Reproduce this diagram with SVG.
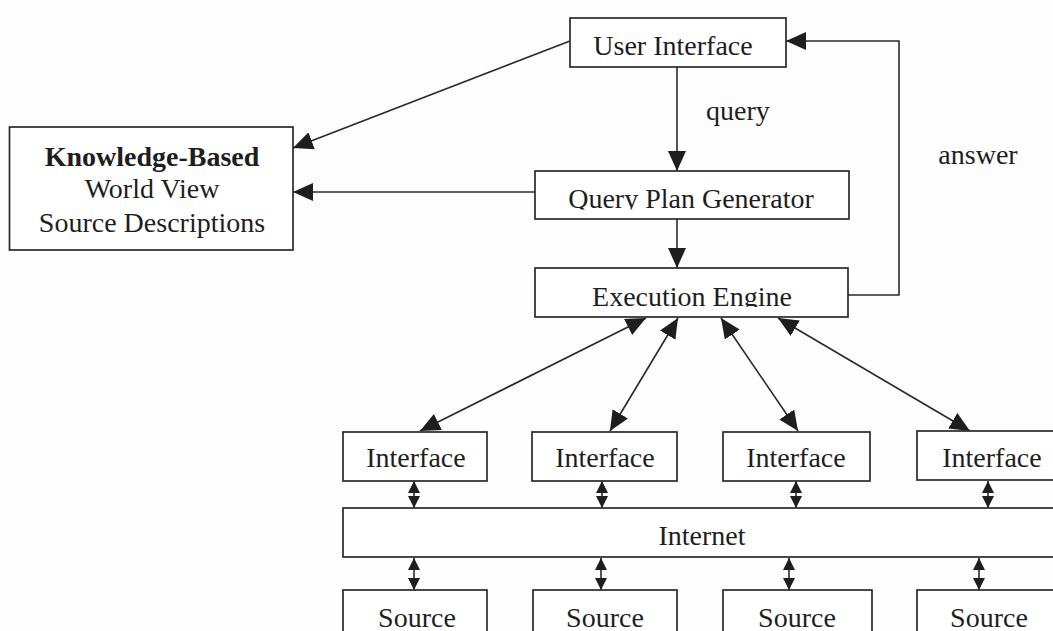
<svg xmlns="http://www.w3.org/2000/svg" width="1053" height="631" viewBox="0 0 1053 631">
  <style>
    .box { fill: #ffffff; stroke: #2a2a2a; stroke-width: 1.7; }
    .lbl { font-family: "Liberation Serif", "Times New Roman", serif; font-size: 28px; fill: #1e1e1e; text-anchor: middle; }
    .bold { font-weight: bold; }
    .wire { fill: none; stroke: #2a2a2a; stroke-width: 1.6; }
    .big { marker-end: url(#head); }
    .both { marker-start: url(#head); marker-end: url(#head); }
    .tiny { marker-start: url(#small); marker-end: url(#small); }
  </style>
  <defs>
    <marker id="head" viewBox="0 0 20 18" refX="20" refY="9" markerWidth="20" markerHeight="18" markerUnits="userSpaceOnUse" orient="auto-start-reverse">
      <path d="M0,0 L20,9 L0,18 z" fill="#1e1e1e"/>
    </marker>
    <marker id="small" viewBox="0 0 12 12" refX="12" refY="6" markerWidth="12" markerHeight="12" markerUnits="userSpaceOnUse" orient="auto-start-reverse">
      <path d="M0,0 L12,6 L0,12 z" fill="#1e1e1e"/>
    </marker>
    <clipPath id="clipQpg"><rect x="535" y="171" width="314" height="38.5"/></clipPath>
    <clipPath id="clipExec"><rect x="535" y="268" width="313" height="39"/></clipPath>
  </defs>

  <rect width="1053" height="631" fill="#fdfdfd"/>

  <!-- connectors -->
  <g id="connectors">
    <line class="wire big" x1="570" y1="41" x2="293" y2="148"/>
    <line class="wire big" x1="535" y1="192" x2="293" y2="192"/>
    <line class="wire big" x1="677" y1="67" x2="677" y2="171"/>
    <line class="wire big" x1="677" y1="219" x2="677" y2="268"/>
    <polyline class="wire big" points="848,295 899,295 899,41 786,41"/>
    <line class="wire both" x1="646" y1="318" x2="420" y2="431"/>
    <line class="wire both" x1="678" y1="318" x2="610" y2="431"/>
    <line class="wire both" x1="721" y1="318" x2="798" y2="431"/>
    <line class="wire both" x1="778" y1="318" x2="970" y2="431"/>
    <line class="wire tiny" x1="414" y1="481" x2="414" y2="508"/>
    <line class="wire tiny" x1="602" y1="481" x2="602" y2="508"/>
    <line class="wire tiny" x1="796" y1="481" x2="796" y2="508"/>
    <line class="wire tiny" x1="988" y1="481" x2="988" y2="508"/>
    <line class="wire tiny" x1="414" y1="558" x2="414" y2="590"/>
    <line class="wire tiny" x1="601" y1="558" x2="601" y2="590"/>
    <line class="wire tiny" x1="789" y1="558" x2="789" y2="590"/>
    <line class="wire tiny" x1="979" y1="558" x2="979" y2="590"/>
  </g>

  <g id="knowledge-base">
    <rect class="box" x="9.5" y="127" width="283.5" height="123"/>
    <text class="lbl bold" x="152" y="166">Knowledge-Based</text>
    <text class="lbl" x="152" y="198">World View</text>
    <text class="lbl" x="152" y="232">Source Descriptions</text>
  </g>

  <g id="user-interface">
    <rect class="box" x="570" y="18" width="216" height="49"/>
    <text class="lbl" x="673" y="55">User Interface</text>
  </g>

  <g id="query-label">
    <text class="lbl" x="738" y="120">query</text>
  </g>

  <g id="answer-label">
    <text class="lbl" x="978" y="164">answer</text>
  </g>

  <g id="query-plan-generator">
    <rect class="box" x="535" y="171" width="314" height="48"/>
    <text class="lbl" x="691" y="208" clip-path="url(#clipQpg)">Query Plan Generator</text>
  </g>

  <g id="execution-engine">
    <rect class="box" x="535" y="268" width="313" height="49"/>
    <text class="lbl" x="692" y="306" clip-path="url(#clipExec)">Execution Engine</text>
  </g>

  <g id="interface-1">
    <rect class="box" x="343" y="432" width="144" height="49"/>
    <text class="lbl" x="416" y="467">Interface</text>
  </g>
  <g id="interface-2">
    <rect class="box" x="532" y="432" width="145" height="49"/>
    <text class="lbl" x="605" y="467">Interface</text>
  </g>
  <g id="interface-3">
    <rect class="box" x="723" y="432" width="147" height="49"/>
    <text class="lbl" x="796" y="467">Interface</text>
  </g>
  <g id="interface-4">
    <rect class="box" x="917" y="431" width="150" height="49"/>
    <text class="lbl" x="992" y="467">Interface</text>
  </g>

  <g id="internet">
    <rect class="box" x="343" y="508" width="724" height="49"/>
    <text class="lbl" x="702" y="545">Internet</text>
  </g>

  <g id="source-1">
    <rect class="box" x="343" y="590" width="144" height="60"/>
    <text class="lbl" x="417" y="627">Source</text>
  </g>
  <g id="source-2">
    <rect class="box" x="533" y="590" width="144" height="60"/>
    <text class="lbl" x="605" y="627">Source</text>
  </g>
  <g id="source-3">
    <rect class="box" x="723" y="590" width="149" height="60"/>
    <text class="lbl" x="797" y="627">Source</text>
  </g>
  <g id="source-4">
    <rect class="box" x="917" y="590" width="150" height="60"/>
    <text class="lbl" x="989" y="627">Source</text>
  </g>
</svg>
